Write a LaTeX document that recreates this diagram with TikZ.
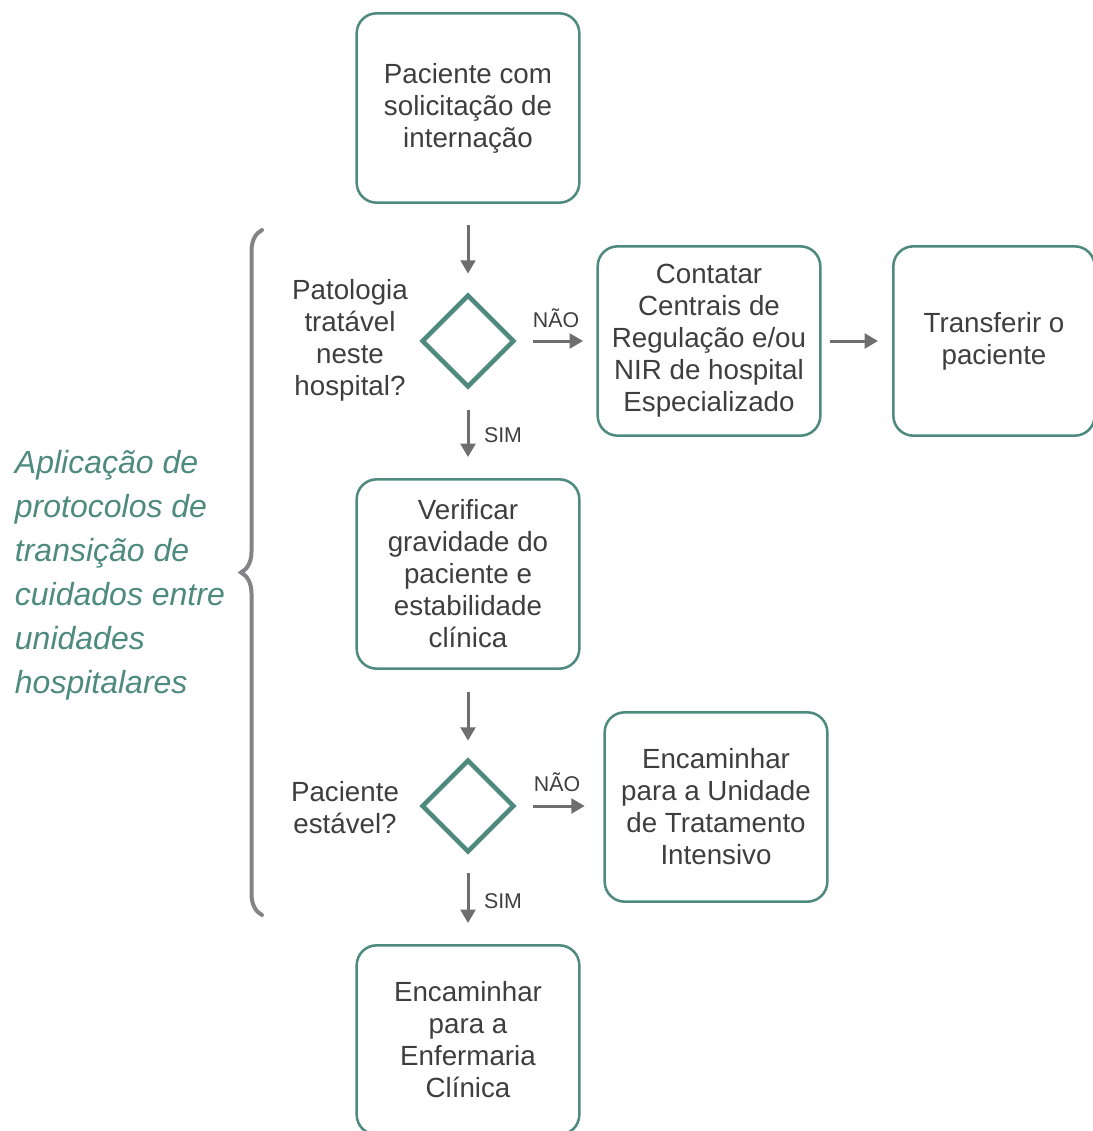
\documentclass[tikz,border=0pt]{standalone}
\usepackage{fontspec}
\setmainfont{Liberation Sans}
\usetikzlibrary{shapes.geometric,arrows.meta,decorations.pathreplacing}

\tikzset{every picture/.style={line width=0.75pt}}
\tikzset{
  stepbox/.style={draw={rgb, 255:red, 78; green, 138; blue, 126 }, line width=1.9pt, rounded corners=15pt,
    minimum width=167pt, minimum height=142pt, inner sep=0pt, align=center,
    text={rgb, 255:red, 62; green, 62; blue, 62 }, font=\fontsize{20.8}{24}\selectfont},
  decision/.style={diamond, draw={rgb, 255:red, 78; green, 138; blue, 126 }, line width=3.5pt,
    minimum width=69.5pt, minimum height=69.5pt, inner sep=0pt},
  flow/.style={draw={rgb, 255:red, 110; green, 110; blue, 110 }, line width=2.25pt,
    -{Triangle[length=10pt,width=11pt]}},
  asklabel/.style={align=center, text={rgb, 255:red, 62; green, 62; blue, 62 }, font=\fontsize{20.8}{24}\selectfont},
  answer/.style={text={rgb, 255:red, 62; green, 62; blue, 62 }, font=\fontsize{16}{18}\selectfont},
}

\begin{document}
\begin{tikzpicture}[x=0.75pt,y=0.75pt,yscale=-1,xscale=1]
\useasboundingbox (0,0) rectangle (1092,1131);

%Shape: Rounded boxes
\node[stepbox] (pedido) at (468,108) {Paciente com\\solicitação de\\internação};
\node[stepbox] (contatar) at (709,341) {Contatar\\Centrais de\\Regulação e/ou\\NIR de hospital\\Especializado};
\node[stepbox, minimum width=151pt] (transferir) at (994,341) {Transferir o\\paciente};
\node[stepbox] (verificar) at (468,574) {Verificar\\gravidade do\\paciente e\\estabilidade\\clínica};
\node[stepbox] (uti) at (716,807) {Encaminhar\\para a Unidade\\de Tratamento\\Intensivo};
\node[stepbox] (enfermaria) at (468,1040) {Encaminhar\\para a\\Enfermaria\\Clínica};

%Shape: Diamonds
\node[decision] (patologia) at (468,341) {};
\node[decision] (estavel) at (468,806) {};

% Text Node
\node[asklabel] (patologiatxt) at (350,340) {Patologia\\tratável\\neste\\hospital?};
% Text Node
\node[asklabel] (estaveltxt) at (345,808) {Paciente\\estável?};

%Straight Lines
\draw[flow, shorten <=15.5pt, shorten >=14pt] (pedido) -- (patologia);
\draw[flow, shorten <=15pt, shorten >=15.75pt] (patologia) -- (verificar);
\draw[flow, shorten <=12.5pt, shorten >=10pt] (patologia) -- (contatar);
\draw[flow, shorten <=6pt, shorten >=10.5pt] (contatar) -- (transferir.west |- contatar);
\draw[flow, shorten <=16.5pt, shorten >=12.5pt] (verificar) -- (estavel);
\draw[flow, shorten <=12.5pt, shorten >=14pt] (estavel) -- (uti.west |- estavel);
\draw[flow, shorten <=14pt, shorten >=15.75pt] (estavel) -- (enfermaria);

% Text Node
\node[answer] (nao1) at (556,318) {NÃO};
% Text Node
\node[answer] (sim1) at (503,435) {SIM};
% Text Node
\node[answer] (nao2) at (557,782) {NÃO};
% Text Node
\node[answer] (sim2) at (503,901) {SIM};

%Shape: Brace
\coordinate (bracebottom) at (262,915);
\coordinate (bracetop) at (262,230);
\draw[draw={rgb, 255:red, 132; green, 132; blue, 134 }, line width=3pt, line cap=round,
  decorate, decoration={brace, amplitude=15.75pt}] (bracebottom) -- (bracetop);

% Text Node
\node[anchor=west, align=left, text={rgb, 255:red, 78; green, 138; blue, 126 },
  font=\fontsize{24}{33}\selectfont\itshape] (protocolo) at (10,575)
  {Aplicação de\\protocolos de\\transição de\\cuidados entre\\unidades\\hospitalares};

\end{tikzpicture}
\end{document}
